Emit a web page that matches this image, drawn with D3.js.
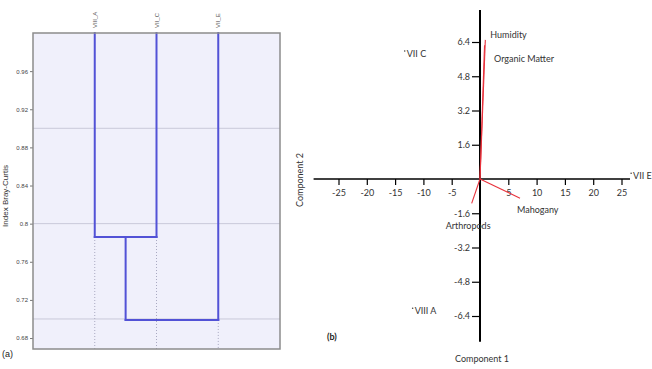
<!DOCTYPE html>
<html>
<head>
<meta charset="utf-8">
<script src="https://cdn.jsdelivr.net/npm/d3@7"></script>
<style>
  body { margin: 0; background: #fff; }
  svg { display: block; }
</style>
</head>
<body>
<div id="chart"></div>
<script>
// Panel (a): dendrogram data
var leafNames = ["VIII_A", "VII_C", "VII_E"];
var mergeHeights = [0.786, 0.699]; // first VIII_A+VII_C, then with VII_E
var brayTicks = [0.68, 0.72, 0.76, 0.8, 0.84, 0.88, 0.92, 0.96];
var brayGrid = [0.7, 0.8, 0.9];

// Panel (b): PCA biplot data
var siteNames = ["VII C", "VIII A", "VII E"];
var siteX = [-13.3, -11.9, 26.7];
var siteY = [5.98, -6.04, 0.27];
var varNames = ["Humidity", "Organic Matter", "Mahogany", "Arthropods"];
var varX = [0.94, 0.8, 7.07, -1.47];
var varY = [6.5, 6.25, -0.9, -1.14];
var pcXTicks = [-25, -20, -15, -10, -5, 5, 10, 15, 20, 25];
var pcYTicks = [6.4, 4.8, 3.2, 1.6, -1.6, -3.2, -4.8, -6.4];

var W = 652, H = 369;
var svg = d3.select("#chart").append("svg").attr("width", W).attr("height", H);

// ---------- (a) dendrogram ----------
var frame = { left: 33, right: 280, top: 33, bottom: 349 };
var yA = d3.scaleLinear().domain([0.6685, 1.0]).range([frame.bottom, frame.top]);
var xA = d3.scalePoint().domain(leafNames).range([frame.left, frame.right]).padding(1);

var gA = svg.append("g");

gA.append("rect")
  .attr("x", frame.left).attr("y", frame.top)
  .attr("width", frame.right - frame.left).attr("height", frame.bottom - frame.top)
  .attr("fill", "#f0f0fb");

gA.selectAll(".grid")
  .data(brayGrid)
  .enter().append("line")
  .attr("x1", frame.left).attr("x2", frame.right)
  .attr("y1", (d) => yA(d)).attr("y2", (d) => yA(d))
  .attr("stroke", "#c9c9d9").attr("stroke-width", 1);

var axA = gA.append("g")
  .attr("transform", "translate(" + frame.left + ",0)")
  .call(d3.axisLeft(yA).tickValues(brayTicks).tickSize(3).tickPadding(2)
    .tickFormat((d) => d === 0.8 ? "0.8" : d.toFixed(2)));
axA.select(".domain").remove();
axA.selectAll("line").attr("stroke", "#777");
axA.selectAll("text").attr("fill", "#444").style("font", "6px 'Liberation Sans', sans-serif");

// dendrogram links
var mid = (xA("VIII_A") + xA("VII_C")) / 2;
var blue = "#5252d6";
var links = [
  [[xA("VIII_A"), yA(1.0)], [xA("VIII_A"), yA(mergeHeights[0])]],
  [[xA("VII_C"), yA(1.0)], [xA("VII_C"), yA(mergeHeights[0])]],
  [[xA("VIII_A"), yA(mergeHeights[0])], [xA("VII_C"), yA(mergeHeights[0])]],
  [[mid, yA(mergeHeights[0])], [mid, yA(mergeHeights[1])]],
  [[xA("VII_E"), yA(1.0)], [xA("VII_E"), yA(mergeHeights[1])]],
  [[mid, yA(mergeHeights[1])], [xA("VII_E"), yA(mergeHeights[1])]]
];
var dotted = [
  [xA("VIII_A"), mergeHeights[0]],
  [xA("VII_C"), mergeHeights[0]],
  [xA("VII_E"), mergeHeights[1]]
];
gA.selectAll(".dot-line")
  .data(dotted)
  .enter().append("line")
  .attr("x1", (d) => d[0]).attr("x2", (d) => d[0])
  .attr("y1", (d) => yA(d[1])).attr("y2", frame.bottom)
  .attr("stroke", "#a8a8c0").attr("stroke-dasharray", "1,2").attr("stroke-width", 1);

gA.selectAll(".link")
  .data(links)
  .enter().append("path")
  .attr("d", (d) => d3.line()(d))
  .attr("stroke", blue).attr("stroke-width", 2).attr("fill", "none")
  .attr("stroke-linecap", "square");

gA.append("rect")
  .attr("x", frame.left).attr("y", frame.top)
  .attr("width", frame.right - frame.left).attr("height", frame.bottom - frame.top)
  .attr("fill", "none").attr("stroke", "#8c8c8c").attr("stroke-width", 1.5);

gA.selectAll(".leaf")
  .data(leafNames)
  .enter().append("text")
  .attr("transform", (d) => "translate(" + (xA(d) + 2) + ",28) rotate(-90)")
  .attr("fill", "#555")
  .style("font", "6px 'Liberation Sans', sans-serif")
  .text((d) => d);

gA.append("text")
  .attr("transform", "translate(8,196) rotate(-90)")
  .attr("text-anchor", "middle")
  .attr("fill", "#333")
  .style("font", "8px 'Liberation Sans', sans-serif")
  .text("Index Bray-Curtis");

gA.append("text")
  .attr("x", 2).attr("y", 357)
  .attr("fill", "#222")
  .style("font", "9px 'Liberation Sans', sans-serif")
  .text("(a)");

// ---------- (b) PCA biplot ----------
var xB = d3.scaleLinear().domain([-25, 25]).range([338.5, 621.5]);
var yB = d3.scaleLinear().domain([-6.4, 6.4]).range([316, 42]);
var fontB = "9px Lato, 'Open Sans', sans-serif";
var gB = svg.append("g");

// axis lines
gB.append("line")
  .attr("x1", xB(-29.4)).attr("x2", xB(26.5))
  .attr("y1", yB(0)).attr("y2", yB(0))
  .attr("stroke", "#000").attr("stroke-width", 1.5);
gB.append("line")
  .attr("x1", xB(0)).attr("x2", xB(0))
  .attr("y1", yB(7.9)).attr("y2", yB(-7.6))
  .attr("stroke", "#000").attr("stroke-width", 2);

var axX = gB.append("g")
  .attr("transform", "translate(0," + yB(0) + ")")
  .call(d3.axisBottom(xB).tickValues(pcXTicks).tickSize(6).tickPadding(5)
    .tickFormat((d) => String(d)));
axX.select(".domain").remove();
axX.selectAll("line").attr("stroke", "#000").attr("stroke-width", 1.2);
axX.selectAll("text").attr("fill", "#333").style("font", fontB);

var axY = gB.append("g")
  .attr("transform", "translate(" + xB(0) + ",0)")
  .call(d3.axisLeft(yB).tickValues(pcYTicks).tickSize(8).tickPadding(2)
    .tickFormat((d) => d.toFixed(1)));
axY.select(".domain").remove();
axY.selectAll("line").attr("stroke", "#000").attr("stroke-width", 1.2);
axY.selectAll("text").attr("fill", "#333").style("font", fontB);

// variable vectors
var labelOffsets = [[5, -1.5], [9.5, 16.5], [-3, 14.5], [-26, 26]];
var vecs = varNames.map((n, i) => ({ name: n, x: varX[i], y: varY[i], off: labelOffsets[i] }));

gB.selectAll(".vec")
  .data(vecs)
  .enter().append("line")
  .attr("x1", xB(0)).attr("y1", yB(0))
  .attr("x2", (d) => xB(d.x)).attr("y2", (d) => yB(d.y))
  .attr("stroke", "#e8323c").attr("stroke-width", 1.1);

gB.selectAll(".vec-label")
  .data(vecs)
  .enter().append("text")
  .attr("x", (d) => xB(d.x) + d.off[0])
  .attr("y", (d) => yB(d.y) + d.off[1])
  .attr("fill", "#333")
  .style("font", fontB)
  .text((d) => d.name);

// sites
var sites = siteNames.map((n, i) => ({ name: n, x: siteX[i], y: siteY[i] }));
gB.selectAll(".site")
  .data(sites)
  .enter().append("circle")
  .attr("cx", (d) => xB(d.x)).attr("cy", (d) => yB(d.y))
  .attr("r", 0.8).attr("fill", "#444");
gB.selectAll(".site-label")
  .data(sites)
  .enter().append("text")
  .attr("x", (d) => xB(d.x) + 2)
  .attr("y", (d) => yB(d.y) + 6)
  .attr("fill", "#333")
  .style("font", "9px Lato, 'Open Sans', sans-serif")
  .text((d) => d.name);

gB.append("text")
  .attr("transform", "translate(303,180) rotate(-90)")
  .attr("text-anchor", "middle")
  .attr("fill", "#333")
  .style("font", fontB)
  .text("Component 2");

gB.append("text")
  .attr("x", 482).attr("y", 362)
  .attr("text-anchor", "middle")
  .attr("fill", "#333")
  .style("font", fontB)
  .text("Component 1");

gB.append("text")
  .attr("x", 327).attr("y", 340)
  .attr("fill", "#222")
  .style("font", "bold 9px Lato, 'Open Sans', sans-serif")
  .text("(b)");
</script>
</body>
</html>
